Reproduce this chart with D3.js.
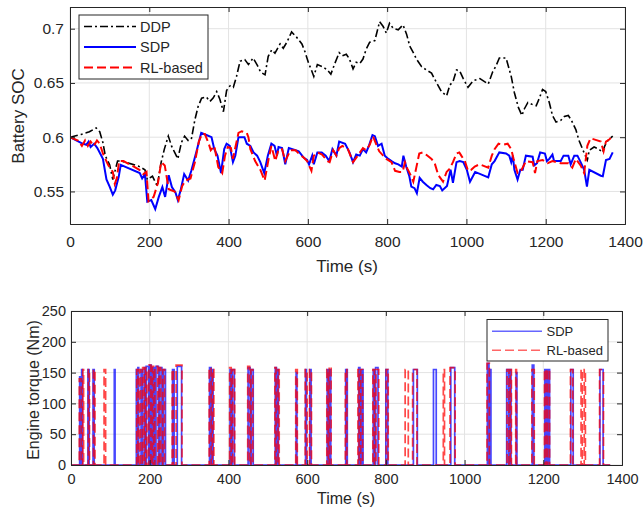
<!DOCTYPE html>
<html>
<head>
<meta charset="utf-8">
<script src="https://cdn.jsdelivr.net/npm/d3@7"></script>
<style>
  body { margin: 0; background: #fff; }
  svg { font-family: "Liberation Sans", Arial, sans-serif; }
</style>
</head>
<body>
<div id="chart"></div>
<script>
// ---- data: battery SOC, [time (s), SOC] ----
const ddpSoc = [[0,0.600],[28,0.6025],[41,0.604],[49,0.605],[66,0.6085],[75,0.605],[83,0.595],[89,0.583],[100,0.5745],[108,0.561],[120,0.578],[129,0.578],[172,0.5735],[189,0.570],[195,0.561],[208,0.564],[220,0.555],[230,0.577],[238,0.589],[248,0.601],[256,0.592],[264,0.586],[272,0.580],[281,0.595],[289,0.601],[298,0.597],[306,0.598],[315,0.616],[323,0.628],[332,0.636],[344,0.637],[353,0.633],[361,0.636],[370,0.642],[378,0.635],[387,0.6235],[395,0.643],[404,0.6475],[412,0.646],[420,0.656],[429,0.670],[441,0.6715],[450,0.667],[462,0.673],[473,0.666],[481,0.660],[492,0.6575],[500,0.6745],[509,0.6805],[517,0.6775],[530,0.686],[538,0.682],[547,0.6875],[559,0.697],[572,0.692],[585,0.686],[593,0.6785],[602,0.668],[609,0.662],[615,0.656],[624,0.667],[637,0.665],[649,0.662],[658,0.658],[667,0.667],[679,0.678],[687,0.675],[697,0.6765],[705,0.672],[714,0.663],[722,0.669],[731,0.668],[739,0.672],[747,0.681],[756,0.6875],[769,0.689],[781,0.7065],[790,0.702],[798,0.696],[806,0.705],[815,0.7005],[828,0.699],[840,0.7035],[849,0.695],[857,0.684],[866,0.678],[874,0.672],[887,0.665],[899,0.662],[912,0.659],[925,0.650],[937,0.642],[950,0.638],[958,0.648],[966,0.651],[975,0.662],[983,0.661],[992,0.654],[1004,0.646],[1017,0.652],[1034,0.654],[1055,0.649],[1066,0.660],[1075,0.666],[1083,0.673],[1100,0.673],[1113,0.656],[1121,0.641],[1131,0.6275],[1140,0.620],[1146,0.626],[1155,0.632],[1167,0.630],[1176,0.629],[1184,0.636],[1192,0.644],[1200,0.642],[1209,0.632],[1217,0.620],[1226,0.614],[1238,0.6155],[1247,0.619],[1257,0.620],[1265,0.6155],[1276,0.607],[1284,0.597],[1293,0.589],[1301,0.582],[1305,0.579],[1310,0.588],[1322,0.591],[1334,0.589],[1343,0.586],[1349,0.592],[1357,0.597],[1369,0.601]];

const sdpSoc = [[0,0.600],[29,0.5945],[41,0.593],[47,0.596],[52,0.591],[61,0.594],[69,0.590],[83,0.580],[92,0.561],[100,0.5545],[108,0.547],[114,0.551],[123,0.5637],[128,0.5745],[176,0.567],[182,0.562],[189,0.566],[195,0.5406],[205,0.542],[215,0.5338],[224,0.545],[233,0.554],[240,0.545],[249,0.565],[257,0.554],[266,0.549],[272,0.542],[279,0.551],[288,0.566],[298,0.560],[306,0.569],[319,0.5867],[331,0.604],[344,0.602],[357,0.600],[364,0.589],[372,0.583],[381,0.567],[389,0.589],[395,0.594],[403,0.592],[411,0.577],[417,0.583],[425,0.600],[440,0.600],[446,0.594],[455,0.592],[463,0.586],[472,0.583],[480,0.577],[490,0.567],[499,0.583],[508,0.594],[516,0.592],[522,0.583],[526,0.591],[535,0.590],[543,0.575],[552,0.590],[569,0.588],[577,0.587],[590,0.581],[598,0.579],[603,0.575],[611,0.583],[615,0.575],[624,0.586],[635,0.586],[645,0.583],[654,0.578],[662,0.589],[672,0.583],[679,0.596],[694,0.594],[705,0.586],[714,0.577],[722,0.584],[731,0.583],[739,0.589],[747,0.586],[754,0.592],[763,0.602],[769,0.601],[777,0.592],[786,0.594],[794,0.583],[803,0.580],[811,0.578],[820,0.576],[828,0.575],[837,0.573],[841,0.583],[848,0.573],[856,0.564],[861,0.5545],[869,0.553],[875,0.5483],[882,0.5625],[890,0.559],[899,0.556],[909,0.553],[916,0.552],[924,0.556],[933,0.555],[939,0.551],[951,0.555],[960,0.570],[966,0.558],[975,0.577],[983,0.578],[992,0.577],[1001,0.570],[1009,0.559],[1022,0.568],[1055,0.563],[1064,0.575],[1071,0.578],[1083,0.586],[1100,0.585],[1108,0.583],[1113,0.577],[1117,0.583],[1121,0.570],[1129,0.561],[1136,0.570],[1142,0.570],[1150,0.583],[1167,0.582],[1171,0.574],[1178,0.576],[1186,0.586],[1198,0.585],[1203,0.578],[1209,0.580],[1217,0.584],[1221,0.578],[1238,0.578],[1245,0.583],[1257,0.583],[1263,0.575],[1272,0.583],[1280,0.583],[1288,0.577],[1297,0.570],[1304,0.5545],[1310,0.570],[1339,0.5645],[1344,0.564],[1352,0.579],[1361,0.580],[1369,0.586]];

const rlSoc = [[0,0.600],[20,0.597],[30,0.592],[38,0.597],[45,0.592],[52,0.596],[60,0.592],[68,0.597],[75,0.594],[83,0.585],[96,0.5745],[108,0.568],[113,0.557],[118,0.562],[124,0.578],[135,0.578],[160,0.573],[175,0.570],[185,0.566],[193,0.568],[198,0.541],[211,0.545],[222,0.558],[230,0.577],[239,0.574],[249,0.552],[264,0.550],[274,0.542],[283,0.555],[291,0.560],[304,0.562],[315,0.577],[325,0.596],[333,0.603],[340,0.603],[350,0.594],[355,0.588],[364,0.592],[374,0.5725],[384,0.567],[391,0.583],[398,0.591],[406,0.590],[411,0.580],[425,0.604],[433,0.6055],[446,0.604],[450,0.600],[455,0.589],[467,0.578],[480,0.570],[491,0.560],[501,0.580],[508,0.592],[518,0.578],[526,0.589],[535,0.589],[543,0.578],[556,0.588],[569,0.588],[577,0.585],[590,0.581],[598,0.578],[609,0.569],[615,0.583],[624,0.586],[636,0.584],[649,0.578],[655,0.577],[664,0.588],[672,0.583],[679,0.590],[687,0.592],[701,0.589],[714,0.577],[726,0.583],[739,0.590],[747,0.588],[756,0.593],[764,0.601],[773,0.593],[780,0.587],[790,0.583],[798,0.580],[811,0.577],[820,0.569],[831,0.568],[839,0.568],[845,0.577],[851,0.571],[858,0.566],[866,0.559],[873,0.571],[881,0.585],[890,0.586],[898,0.584],[912,0.580],[920,0.576],[929,0.565],[941,0.559],[950,0.568],[958,0.571],[966,0.577],[975,0.585],[982,0.586],[987,0.583],[996,0.578],[1004,0.569],[1012,0.570],[1021,0.573],[1033,0.575],[1055,0.572],[1064,0.583],[1071,0.589],[1081,0.594],[1092,0.593],[1104,0.594],[1113,0.589],[1119,0.580],[1129,0.567],[1138,0.569],[1150,0.578],[1167,0.577],[1173,0.567],[1179,0.578],[1192,0.579],[1205,0.576],[1217,0.578],[1238,0.576],[1257,0.576],[1267,0.572],[1276,0.580],[1288,0.574],[1297,0.567],[1305,0.592],[1313,0.599],[1322,0.598],[1339,0.596],[1346,0.587],[1352,0.596],[1361,0.598],[1369,0.602]];

// ---- data: engine torque on-periods, [start (s), end (s), torque (Nm)] ----
const sdpTorque = [[22,24,143],[27,29,155],[43,46,155],[56,59,155],[110,112,155],[166,168,155],[170,172,158],[178,181,155],[186,188,158],[191,197,160],[200,204,162],[208,212,158],[216,222,160],[226,231,158],[235,240,155],[258,262,155],[270,281,160],[352,356,158],[358,361,155],[404,406,155],[410,415,155],[450,455,158],[458,463,155],[519,522,158],[525,527,155],[572,574,150],[596,598,155],[607,610,155],[651,655,155],[658,660,155],[698,702,155],[731,734,158],[738,742,155],[768,770,155],[774,780,158],[800,805,155],[870,880,155],[921,928,155],[965,975,158],[1058,1062,165],[1064,1067,155],[1107,1112,155],[1115,1118,155],[1131,1133,150],[1172,1176,162],[1204,1208,155],[1212,1216,155],[1270,1276,155],[1344,1352,155]];

const rlTorque = [[21,26,140],[30,32,155],[44,47,155],[57,61,155],[84,88,155],[167,170,155],[174,177,155],[182,186,158],[189,193,158],[198,203,162],[207,210,160],[213,220,160],[224,228,158],[233,238,155],[257,260,155],[267,282,162],[351,356,158],[359,363,155],[403,407,158],[411,416,155],[449,454,160],[457,462,155],[518,521,158],[526,529,155],[571,575,155],[595,600,155],[606,611,155],[650,654,155],[656,661,160],[697,701,155],[729,732,155],[736,741,155],[767,771,155],[775,782,155],[801,806,155],[849,857,155],[868,879,155],[946,949,155],[963,976,158],[1057,1063,165],[1108,1113,155],[1116,1119,155],[1130,1132,155],[1171,1177,155],[1203,1207,155],[1211,1216,155],[1269,1275,155],[1296,1299,155],[1304,1307,155],[1343,1353,155]];

const torqueEnd = 1370;
const timeTicks = [0, 200, 400, 600, 800, 1000, 1200, 1400];
const socTicks = [0.55, 0.6, 0.65, 0.7];
const torqueTicks = [0, 50, 100, 150, 200, 250];

const axisColor = "#262626";
const gridColor = "#e3e3e3";

let svg = d3.select("#chart").append("svg")
    .attr("width", 643)
    .attr("height", 508);

// draws one MATLAB-like panel (grid, box, ticks inside) and returns the group for data
function panel(x, y, xTicks, yTicks, yFormat, fontSize, xPad, yPad, clipId) {
    let [x0, x1] = x.range();
    let [y1, y0] = y.range();

    svg.append("clipPath").attr("id", clipId)
        .append("rect").attr("x", x0).attr("y", y0).attr("width", x1 - x0).attr("height", y1 - y0);

    // grid
    let grid = svg.append("g");
    grid.selectAll(".gx").data(xTicks).enter().append("line")
        .attr("x1", d => x(d)).attr("x2", d => x(d))
        .attr("y1", y0).attr("y2", y1)
        .attr("stroke", gridColor);
    grid.selectAll(".gy").data(yTicks).enter().append("line")
        .attr("x1", x0).attr("x2", x1)
        .attr("y1", d => y(d)).attr("y2", d => y(d))
        .attr("stroke", gridColor);

    let data = svg.append("g").attr("clip-path", "url(#" + clipId + ")");

    // axes (ticks pointing inward)
    let bottom = svg.append("g").attr("transform", "translate(0," + y1 + ")")
        .call(d3.axisBottom(x).tickValues(xTicks).tickSize(-5).tickPadding(xPad).tickFormat(d => String(d)));
    let top = svg.append("g").attr("transform", "translate(0," + y0 + ")")
        .call(d3.axisTop(x).tickValues(xTicks).tickSize(-5).tickFormat(""));
    let left = svg.append("g").attr("transform", "translate(" + x0 + ",0)")
        .call(d3.axisLeft(y).tickValues(yTicks).tickSize(-5).tickPadding(yPad).tickFormat(yFormat));
    let right = svg.append("g").attr("transform", "translate(" + x1 + ",0)")
        .call(d3.axisRight(y).tickValues(yTicks).tickSize(-5).tickFormat(""));

    [bottom, top, left, right].forEach(g => {
        g.select(".domain").attr("stroke", axisColor).attr("stroke-width", 1);
        g.selectAll(".tick line").attr("stroke", axisColor);
        g.selectAll(".tick text").attr("fill", axisColor)
            .style("font-size", fontSize + "px")
            .style("font-family", '"Liberation Sans", Arial, sans-serif');
    });

    return data;
}

// ================= TOP: battery SOC =================
let xTop = d3.scaleLinear().domain([0, 1400]).range([70, 625]);
let yTop = d3.scaleLinear().domain([0.52, 0.72]).range([224, 7]);

let topData = panel(xTop, yTop, timeTicks, socTicks, d => String(+d.toFixed(2)), 15.5, 12, 6, "clipTop");

let lineTop = d3.line().x(d => xTop(d[0])).y(d => yTop(d[1]));

topData.append("path").datum(ddpSoc)
    .attr("d", lineTop).attr("fill", "none")
    .attr("stroke", "black").attr("stroke-width", 1.6)
    .attr("stroke-dasharray", "8,3,2,3");

topData.append("path").datum(sdpSoc)
    .attr("d", lineTop).attr("fill", "none")
    .attr("stroke", "#0000ff").attr("stroke-width", 2);

topData.append("path").datum(rlSoc)
    .attr("d", lineTop).attr("fill", "none")
    .attr("stroke", "#ff0000").attr("stroke-width", 2)
    .attr("stroke-dasharray", "9,4");

// labels
svg.append("text")
    .attr("transform", "translate(18,116) rotate(-90)")
    .attr("text-anchor", "middle").attr("dominant-baseline", "central")
    .attr("fill", axisColor).style("font-size", "17px")
    .text("Battery SOC");

svg.append("text")
    .attr("x", 347).attr("y", 266)
    .attr("text-anchor", "middle").attr("dominant-baseline", "central")
    .attr("fill", axisColor).style("font-size", "17px")
    .text("Time (s)");

// legend
let legTop = svg.append("g");
legTop.append("rect")
    .attr("x", 79).attr("y", 15).attr("width", 129).attr("height", 64)
    .attr("fill", "white").attr("stroke", axisColor).attr("stroke-width", 1);

let topItems = [
    {name: "DDP", color: "black", dash: "8,3,2,3", w: 1.6},
    {name: "SDP", color: "#0000ff", dash: null, w: 2},
    {name: "RL-based", color: "#ff0000", dash: "9,4", w: 2}
];
topItems.forEach((it, i) => {
    let yy = 26.5 + i * 20.5;
    legTop.append("line")
        .attr("x1", 84).attr("x2", 136).attr("y1", yy).attr("y2", yy)
        .attr("stroke", it.color).attr("stroke-width", it.w)
        .attr("stroke-dasharray", it.dash);
    legTop.append("text")
        .attr("x", 140).attr("y", yy)
        .attr("dominant-baseline", "central")
        .attr("fill", axisColor).style("font-size", "14.5px")
        .text(it.name);
});

// ================= BOTTOM: engine torque =================
let xBot = d3.scaleLinear().domain([0, 1400]).range([71, 622]);
let yBot = d3.scaleLinear().domain([0, 250]).range([465, 311]);

let botData = panel(xBot, yBot, timeTicks, torqueTicks, d => String(d), 14.5, 9, 5, "clipBot");

// turn on-periods into a step trace
function torqueTrace(pulses) {
    let pts = [[0, 0]];
    pulses.forEach(p => {
        pts.push([p[0], 0], [p[0], p[2]], [p[1], p[2]], [p[1], 0]);
    });
    pts.push([torqueEnd, 0]);
    return pts;
}

let lineBot = d3.line().x(d => xBot(d[0])).y(d => yBot(d[1]));

botData.append("path").datum(torqueTrace(sdpTorque))
    .attr("d", lineBot).attr("fill", "none")
    .attr("stroke", "#0000ff").attr("stroke-opacity", 0.72).attr("stroke-width", 1.7);

botData.append("path").datum(torqueTrace(rlTorque))
    .attr("d", lineBot).attr("fill", "none")
    .attr("stroke", "#ff0000").attr("stroke-opacity", 0.72).attr("stroke-width", 1.7)
    .attr("stroke-dasharray", "9,4");

svg.append("text")
    .attr("transform", "translate(33,390) rotate(-90)")
    .attr("text-anchor", "middle").attr("dominant-baseline", "central")
    .attr("fill", axisColor).style("font-size", "16px")
    .text("Engine torque (Nm)");

svg.append("text")
    .attr("x", 346).attr("y", 498)
    .attr("text-anchor", "middle").attr("dominant-baseline", "central")
    .attr("fill", axisColor).style("font-size", "16px")
    .text("Time (s)");

let legBot = svg.append("g");
legBot.append("rect")
    .attr("x", 487).attr("y", 319.5).attr("width", 121).attr("height", 41.5)
    .attr("fill", "white").attr("stroke", axisColor).attr("stroke-width", 1);

let botItems = [
    {name: "SDP", color: "#0000ff", dash: null},
    {name: "RL-based", color: "#ff0000", dash: "9,4"}
];
botItems.forEach((it, i) => {
    let yy = 331.3 + i * 19;
    legBot.append("line")
        .attr("x1", 492).attr("x2", 542).attr("y1", yy).attr("y2", yy)
        .attr("stroke", it.color).attr("stroke-opacity", 0.6).attr("stroke-width", 1.6)
        .attr("stroke-dasharray", it.dash);
    legBot.append("text")
        .attr("x", 546.5).attr("y", yy)
        .attr("dominant-baseline", "central")
        .attr("fill", axisColor).style("font-size", "13px")
        .text(it.name);
});
</script>
</body>
</html>
